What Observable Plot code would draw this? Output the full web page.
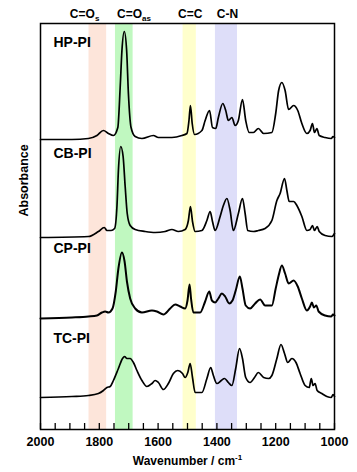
<!DOCTYPE html>
<html><head><meta charset="utf-8">
<script src="https://cdn.jsdelivr.net/npm/d3@7"></script>
<script src="https://cdn.jsdelivr.net/npm/@observablehq/plot@0.6"></script>
<style>body{margin:0;background:#fff}</style>
</head><body><div id="chart"></div>
<script>
// FTIR spectra: [wavenumber (cm-1), absorbance (a.u., relative to own baseline)]
const hpPI = [[2000,0],[1893,0],[1837,0.01],[1808,0.04],[1786,0.09],[1769,0.06],[1752,0.04],[1737,0.12],[1729,0.52],[1723,0.89],[1715,1.08],[1707,0.89],[1701,0.46],[1692,0.12],[1678,0.03],[1655,0.01],[1616,0.04],[1599,0.02],[1553,0.02],[1519,0.04],[1502,0.06],[1495,0.19],[1490,0.34],[1484,0.16],[1476,0.05],[1451,0.09],[1440,0.19],[1425,0.29],[1415,0.12],[1404,0.11],[1395,0.22],[1380,0.36],[1370,0.29],[1361,0.19],[1349,0.22],[1338,0.14],[1327,0.19],[1313,0.40],[1302,0.19],[1290,0.07],[1276,0.07],[1259,0.11],[1241,0.06],[1213,0.07],[1200,0.26],[1190,0.49],[1179,0.57],[1168,0.49],[1156,0.30],[1139,0.34],[1125,0.29],[1111,0.16],[1094,0.06],[1083,0.09],[1075,0.16],[1068,0.07],[1060,0.11],[1052,0.04],[1032,0.02],[1011,0.01],[1005,0.03],[1000,0.02]];
const cbPI = [[2000,0],[1837,0.01],[1803,0.06],[1783,0.10],[1774,0.07],[1760,0.07],[1748,0.09],[1740,0.31],[1735,0.67],[1727,0.91],[1719,0.81],[1712,0.51],[1705,0.24],[1695,0.12],[1678,0.08],[1644,0.06],[1610,0.05],[1576,0.06],[1553,0.08],[1531,0.06],[1508,0.08],[1497,0.17],[1490,0.31],[1483,0.16],[1474,0.06],[1451,0.07],[1434,0.17],[1423,0.26],[1415,0.16],[1406,0.07],[1389,0.21],[1378,0.32],[1366,0.39],[1355,0.27],[1344,0.07],[1327,0.24],[1313,0.39],[1304,0.24],[1295,0.07],[1276,0.06],[1259,0.07],[1236,0.09],[1213,0.17],[1196,0.37],[1185,0.44],[1170,0.59],[1162,0.47],[1154,0.36],[1139,0.36],[1128,0.32],[1111,0.21],[1094,0.07],[1083,0.08],[1075,0.12],[1068,0.07],[1059,0.11],[1052,0.06],[1032,0.02],[1009,0.01],[1000,0.04]];
const cpPI = [[2000,0],[1893,0.01],[1837,0.02],[1808,0.03],[1791,0.06],[1780,0.07],[1769,0.06],[1755,0.10],[1744,0.27],[1735,0.50],[1723,0.66],[1714,0.57],[1706,0.37],[1695,0.20],[1678,0.10],[1655,0.06],[1621,0.08],[1604,0.07],[1582,0.04],[1559,0.10],[1542,0.14],[1525,0.12],[1508,0.10],[1500,0.18],[1493,0.34],[1488,0.20],[1480,0.06],[1457,0.06],[1440,0.17],[1426,0.27],[1417,0.18],[1406,0.16],[1395,0.20],[1383,0.25],[1372,0.22],[1358,0.15],[1347,0.18],[1336,0.28],[1322,0.42],[1313,0.30],[1302,0.13],[1287,0.10],[1270,0.15],[1253,0.19],[1236,0.13],[1213,0.13],[1200,0.30],[1190,0.43],[1179,0.53],[1168,0.45],[1156,0.35],[1139,0.38],[1125,0.32],[1111,0.20],[1094,0.08],[1083,0.12],[1077,0.16],[1070,0.11],[1062,0.13],[1054,0.07],[1032,0.03],[1011,0.02],[1005,0.04],[1000,0.03]];
const tcPI = [[2000,0],[1893,0.01],[1837,0.02],[1803,0.04],[1786,0.07],[1774,0.10],[1763,0.11],[1752,0.17],[1735,0.29],[1721,0.39],[1714,0.41],[1706,0.39],[1695,0.39],[1684,0.35],[1672,0.27],[1655,0.17],[1638,0.11],[1621,0.14],[1610,0.17],[1599,0.15],[1582,0.08],[1565,0.14],[1548,0.24],[1533,0.27],[1517,0.24],[1508,0.20],[1499,0.25],[1491,0.34],[1483,0.20],[1474,0.05],[1451,0.05],[1434,0.19],[1421,0.30],[1412,0.22],[1400,0.14],[1385,0.17],[1374,0.19],[1361,0.15],[1349,0.12],[1336,0.29],[1323,0.49],[1313,0.39],[1302,0.20],[1287,0.15],[1272,0.20],[1259,0.25],[1241,0.20],[1224,0.19],[1213,0.22],[1196,0.39],[1182,0.53],[1170,0.44],[1159,0.35],[1145,0.39],[1131,0.35],[1117,0.24],[1100,0.12],[1086,0.10],[1079,0.19],[1073,0.12],[1066,0.14],[1059,0.07],[1043,0.04],[1026,0.01],[1011,0.00],[1005,0.03],[1000,0.01]];

const seriesNames = ["HP-PI", "CB-PI", "CP-PI", "TC-PI"];
const seriesData = [hpPI, cbPI, cpPI, tcPI];
const seriesOffsets = [2.90, 1.92, 1.11, 0.32];
const seriesLabelY = [3.87, 2.76, 1.81, 0.91];
const seriesWidths = [1.7, 1.7, 2.0, 1.7];

const bandMain = ["C=O", "C=O", "C=C", "C-N"];
const bandSub = ["s", "as", "", ""];
const bandFrom = [1835, 1745, 1515, 1405];
const bandTo = [1775, 1685, 1470, 1330];
const bandLabelX = [1850, 1682, 1491, 1364];
const bandColors = ["#fde5da", "#c0f8c0", "#ffffcc", "#dedef9"];

const tickLabels = [2000, 1800, 1600, 1400, 1200, 1000];
const minorTicks = d3.range(1000, 2001, 50);
const yMax = 4.06;

const lines = seriesNames.flatMap((name, i) =>
  seriesData[i].map(([w, a]) => ({series: name, w, a: a + seriesOffsets[i], sw: seriesWidths[i]})));
const labels = seriesNames.map((name, i) => ({name, y: seriesLabelY[i]}));
const bands = bandMain.map((m, i) => ({main: m, sub: bandSub[i], x1: bandFrom[i], x2: bandTo[i], lx: bandLabelX[i], color: bandColors[i]}));

const font = "Arial, 'Liberation Sans', Helvetica, sans-serif";

const svg = Plot.plot({
  width: 357,
  height: 472,
  marginLeft: 40,
  marginRight: 23,
  marginTop: 23,
  marginBottom: 43,
  style: {fontFamily: font, background: "white", color: "black"},
  x: {domain: [2000, 1000]},
  y: {domain: [0, yMax], axis: null},
  marks: [
    Plot.rect(bands, {x1: "x1", x2: "x2", y1: 0, y2: yMax, fill: "color"}),
    ...seriesNames.map((name, i) =>
      Plot.line(lines.filter(d => d.series === name), {x: "w", y: "a", curve: "monotone-x", stroke: "black", strokeWidth: seriesWidths[i]})),
    Plot.ruleX(minorTicks, {x: d => d, y1: 0, y2: 0.06, stroke: "black", strokeWidth: 1.3}),
    Plot.frame({stroke: "black", strokeWidth: 1.5}),
    Plot.axisX({ticks: tickLabels, tickSize: 0, tickPadding: 8, tickFormat: "d", fontSize: 12.5, fontWeight: "bold", label: null}),
    Plot.text(labels, {x: 1956, y: "y", text: "name", textAnchor: "start", fontSize: 14, fontWeight: "bold", fill: "black"}),
    Plot.text(bands, {x: "lx", y: yMax, text: "main", dy: -9, fontSize: 12, fontWeight: "bold", fill: "black"}),
    Plot.text(["Wavenumber / cm"], {frameAnchor: "bottom", dy: 35, fontSize: 12, fontWeight: "bold", fill: "black"}),
    Plot.text(["Absorbance"], {frameAnchor: "left", dx: -17, dy: -10, rotate: -90, fontSize: 12.5, fontWeight: "bold", fill: "black"})
  ]
});

const root = d3.select(svg);
let coIndex = 0;
root.selectAll("text").each(function() {
  const t = this.textContent;
  if (t === "C=O") {
    const sub = coIndex === 0 ? bandSub[0] : bandSub[1];
    coIndex++;
    d3.select(this).append("tspan").attr("font-size", 8).attr("dy", 3).text(sub);
  } else if (t === "Wavenumber / cm") {
    d3.select(this).append("tspan").attr("font-size", 8).attr("dy", -5).text("-1");
  }
});

document.getElementById("chart").append(svg);
</script>
</body></html>
